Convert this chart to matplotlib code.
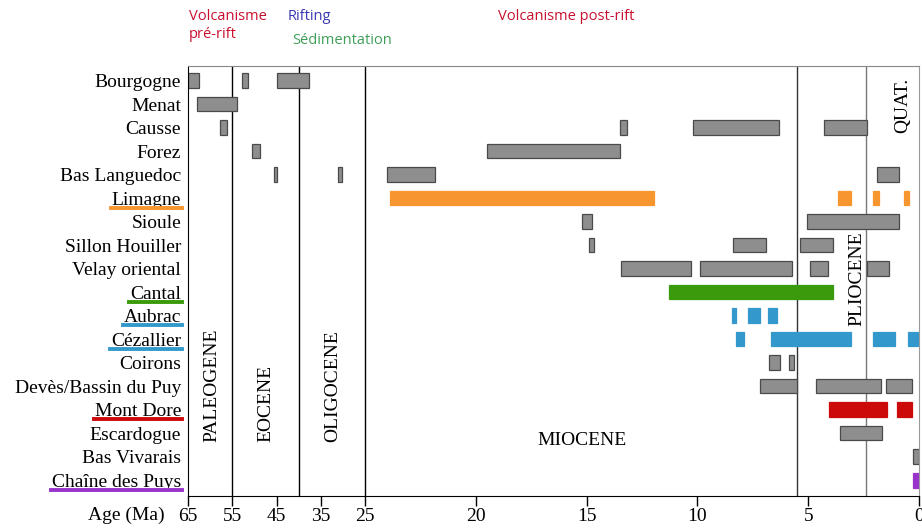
import numpy as np
import matplotlib
matplotlib.use("Agg")
import matplotlib.pyplot as plt
from matplotlib.lines import Line2D

# Régions volcaniques (de haut en bas)
regions = ["Bourgogne", "Menat", "Causse", "Forez", "Bas Languedoc", "Limagne",
           "Sioule", "Sillon Houiller", "Velay oriental", "Cantal", "Aubrac",
           "Cézallier", "Coirons", "Devès/Bassin du Puy", "Mont Dore",
           "Escardogue", "Bas Vivarais", "Chaîne des Puys"]

# couleur des barres (None = gris)
couleurs = [None, None, None, None, None, "#f7962e",
            None, None, None, "#3a9a0c", "#3399cc",
            "#3399cc", None, None, "#cc0a0a",
            None, None, "#9933cc"]

# périodes d'activité (début, fin) en Ma
periodes = [
    [(65.0, 62.6), (52.8, 51.4), (44.8, 37.7)],
    [(63.0, 53.9)],
    [(57.7, 56.1), (13.5, 13.2), (10.2, 6.3), (4.3, 2.35)],
    [(50.6, 48.8), (19.5, 13.5)],
    [(45.6, 44.8), (31.2, 30.3), (24.0, 21.85), (1.9, 0.9)],
    [(23.9, 11.95), (3.65, 3.07), (2.08, 1.8), (0.68, 0.45)],
    [(15.2, 14.75), (5.05, 0.9)],
    [(14.9, 14.65), (8.4, 6.9), (5.35, 3.9)],
    [(13.45, 10.3), (9.9, 5.75), (4.9, 4.1), (2.35, 1.35)],
    [(11.3, 3.9)],
    [(8.45, 8.25), (7.7, 7.2), (6.8, 6.4)],
    [(8.25, 7.9), (6.7, 3.07), (2.08, 1.1), (0.5, 0.05)],
    [(6.77, 6.28), (5.87, 5.65)],
    [(7.18, 5.5), (4.65, 1.7), (1.5, 0.3)],
    [(4.05, 1.45), (1.0, 0.3)],
    [(3.57, 1.67)],
    [(0.27, 0.0)],
    [(0.27, 0.0)],
]

ticks_age = [65, 55, 45, 35, 25, 20, 15, 10, 5, 0]
limites = [55, 40, 25, 5.5, 2.4]   # limites des époques
couleurs_limites = ["black", "black", "black", "#333333", "#777777"]

# échelle compressée avant 25 Ma
xp_age = [0, 25, 65]
xp_pos = [0, 25, 33]
def aller(a):
    return np.interp(a, xp_age, xp_pos)
def retour(u):
    return np.interp(u, xp_pos, xp_age)

serif = "Liberation Serif"
sans = "Open Sans"

fig = plt.figure(figsize=(9.22, 5.29), dpi=100)
ax = fig.add_axes([188 / 922, 1 - 495.5 / 529, (919 - 188) / 922, (495.5 - 66) / 529])
ax.set_xscale("function", functions=(aller, retour))

for i, (per, c) in enumerate(zip(periodes, couleurs)):
    for debut, fin in per:
        if c is None:
            ax.barh(i, debut - fin, left=fin, height=0.62, color="#8e8e8e",
                    edgecolor="#4a4a4a", linewidth=0.9)
        else:
            ax.barh(i, debut - fin, left=fin, height=0.62, color=c,
                    edgecolor=c, linewidth=0.9)

for a, c in zip(limites, couleurs_limites):
    ax.axvline(a, color=c, lw=1.0, zorder=0.5)

ax.set_xlim(65, 0)
ax.set_ylim(17.65, -0.62)
ax.set_xticks(ticks_age)
ax.set_xticklabels([str(t) for t in ticks_age], family=serif, fontsize=14)
ax.set_yticks(range(len(regions)))
ax.set_yticklabels(regions, family=serif, fontsize=14)
ax.tick_params(axis="x", direction="out", length=7, width=1, pad=2)
ax.tick_params(axis="y", length=0, pad=5)
ax.spines["top"].set_color("#888888")
ax.spines["right"].set_color("#999999")

# noms des époques
ax.text(59.7, 15.38, "PALEOGENE", rotation=90, ha="center", va="bottom",
        family=serif, fontsize=14)
ax.text(47.4, 15.38, "EOCENE", rotation=90, ha="center", va="bottom",
        family=serif, fontsize=14)
ax.text(32.3, 15.38, "OLIGOCENE", rotation=90, ha="center", va="bottom",
        family=serif, fontsize=14)
ax.text(15.2, 15.3, "MIOCENE", ha="center", va="center", family=serif, fontsize=14)
ax.text(2.8, 10.45, "PLIOCENE", rotation=90, ha="center", va="bottom",
        family=serif, fontsize=14)
ax.text(0.72, 2.25, "QUAT.", rotation=90, ha="center", va="bottom",
        family=serif, fontsize=14)

fig.text(126 / 922, 1 - 515 / 529, "Age (Ma)", ha="center", va="center",
         family=serif, fontsize=14)

# titres en haut
rouge, bleu, vert = "#c8102e", "#3a3ab4", "#3f9f5a"
fig.text(189 / 922, 1 - 17 / 529, "Volcanisme", ha="left", va="center",
         color=rouge, family=sans, fontsize=10.5)
fig.text(189 / 922, 1 - 34 / 529, "pré-rift", ha="left", va="center",
         color=rouge, family=sans, fontsize=10.5)
fig.text(288 / 922, 1 - 17 / 529, "Rifting", ha="left", va="center",
         color=bleu, family=sans, fontsize=10.5)
fig.text(292 / 922, 1 - 40 / 529, "Sédimentation", ha="left", va="center",
         color=vert, family=sans, fontsize=10.5)
fig.text(498 / 922, 1 - 17 / 529, "Volcanisme post-rift", ha="left", va="center",
         color=rouge, family=sans, fontsize=10.5)

# soulignement des noms colorés
fig.canvas.draw()
r = fig.canvas.get_renderer()
for lab, c in zip(ax.get_yticklabels(), couleurs):
    if c is None:
        continue
    bb = lab.get_window_extent(r)
    x0, y0 = fig.transFigure.inverted().transform((bb.x0 - 1, bb.y0 + 1))
    x1, _ = fig.transFigure.inverted().transform((bb.x1 + 1, bb.y0 + 1))
    fig.add_artist(Line2D([x0, x1], [y0, y0], color=c, lw=2.8,
                          transform=fig.transFigure))

fig.savefig("out.png", dpi=100)
